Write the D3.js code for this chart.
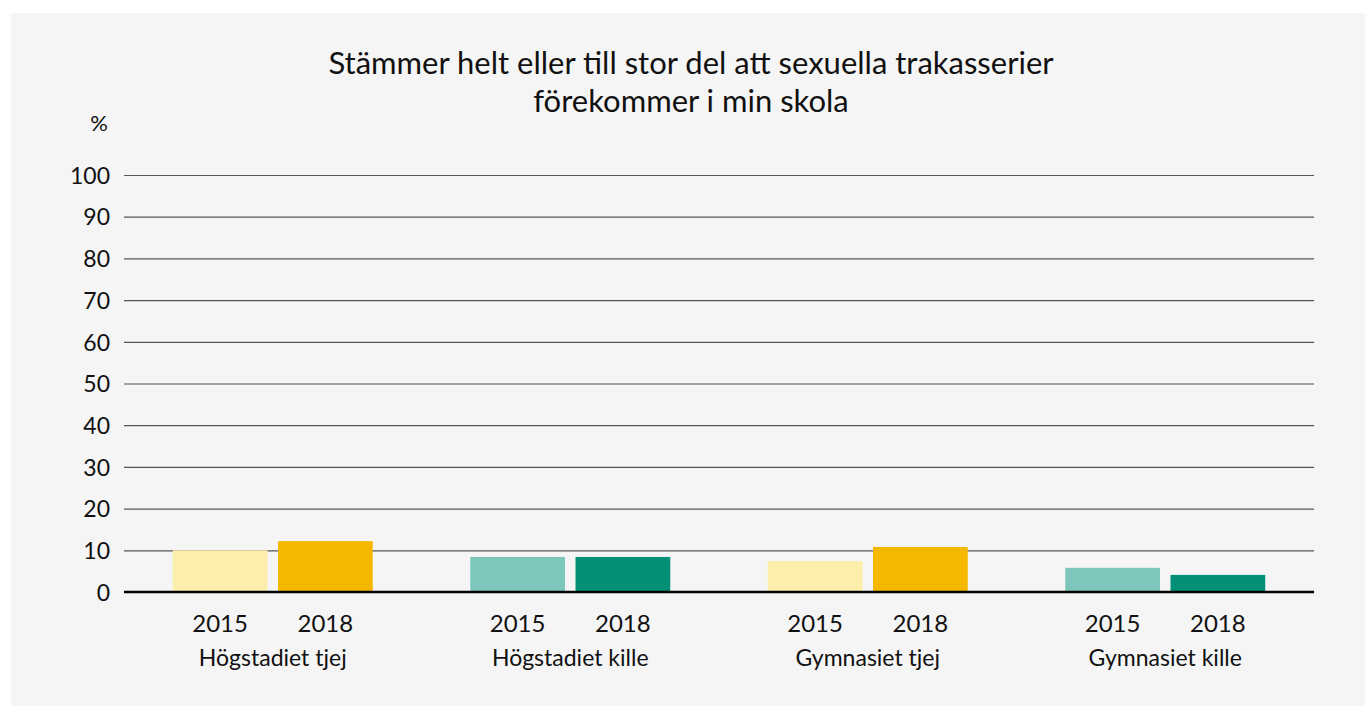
<!DOCTYPE html>
<html>
<head>
<meta charset="utf-8">
<script src="https://cdn.jsdelivr.net/npm/d3@7"></script>
<style>
  html, body { margin: 0; padding: 0; background: #ffffff; }
  svg { display: block; }
  text { font-family: Lato, "Open Sans", sans-serif; fill: #111; }
</style>
</head>
<body>
<svg id="chart" width="1365" height="706"></svg>
<script>
// Share (%) who fully or largely agree, by group and survey year
const categories = ["Högstadiet tjej", "Högstadiet kille", "Gymnasiet tjej", "Gymnasiet kille"];
const years = ["2015", "2018"];
const values2015 = [10.0, 8.4, 7.4, 5.8];
const values2018 = [12.2, 8.4, 10.8, 4.1];
const yTicks = [0, 10, 20, 30, 40, 50, 60, 70, 80, 90, 100];
const titleLines = ["Stämmer helt eller till stor del att sexuella trakasserier", "förekommer i min skola"];

// girls in yellow tones, boys in green tones
const palette = {
  "Högstadiet tjej": ["#fdeeab", "#f4b800"],
  "Högstadiet kille": ["#7dc6bb", "#029077"],
  "Gymnasiet tjej": ["#fdeeab", "#f4b800"],
  "Gymnasiet kille": ["#7dc6bb", "#029077"]
};

const svg = d3.select("#chart");
const W = 1365, H = 706;
const margin = { left: 124, right: 51, top: 175, bottom: 114 };

// panel background
svg.append("rect").attr("x", 11).attr("y", 13).attr("width", W - 11).attr("height", H - 13).attr("fill", "#f5f5f5");

const x0 = d3.scaleBand().domain(categories).range([margin.left, W - margin.right]).paddingInner(0).paddingOuter(0);
const x1 = d3.scaleBand().domain(years).range([0, 200]).paddingInner(0.1);
const y = d3.scaleLinear().domain([0, 100]).range([H - margin.bottom, margin.top]);

// horizontal grid
const yAxis = d3.axisLeft(y).tickValues(yTicks).tickSize(-(W - margin.left - margin.right)).tickPadding(14).tickFormat(d3.format("d"));
const gy = svg.append("g").attr("transform", `translate(${margin.left},0)`).call(yAxis);
gy.select(".domain").remove();
gy.selectAll(".tick line").attr("stroke", "#555").attr("stroke-width", 1.2);
gy.selectAll(".tick text").attr("font-size", 23).attr("fill", "#111").attr("dy", "0.36em");

// bars
const groups = svg.append("g").selectAll("g").data(categories).join("g")
  .attr("transform", d => `translate(${x0(d) + (x0.bandwidth() - 200) / 2},0)`);

groups.selectAll("rect").data((c, i) => years.map((yr, j) => ({ c, yr, v: j === 0 ? values2015[i] : values2018[i], j })))
  .join("rect")
  .attr("x", d => x1(d.yr))
  .attr("width", x1.bandwidth())
  .attr("y", d => y(d.v))
  .attr("height", d => y(0) - y(d.v))
  .attr("fill", d => palette[d.c][d.j]);

// year labels under bars
groups.selectAll("text.year").data(years).join("text")
  .attr("class", "year")
  .attr("x", d => x1(d) + x1.bandwidth() / 2)
  .attr("y", H - margin.bottom + 40)
  .attr("text-anchor", "middle")
  .attr("font-size", 24)
  .text(d => d);

// category labels
groups.append("text")
  .attr("x", 100)
  .attr("y", H - margin.bottom + 74)
  .attr("text-anchor", "middle")
  .attr("font-size", 23)
  .text(d => d);

// zero baseline
svg.append("line")
  .attr("x1", margin.left).attr("x2", W - margin.right)
  .attr("y1", y(0)).attr("y2", y(0))
  .attr("stroke", "#000").attr("stroke-width", 2.4);

// unit label
svg.append("text").attr("x", 99).attr("y", 131).attr("text-anchor", "middle").attr("font-size", 22).text("%");

// title
svg.append("text").attr("x", 691).attr("y", 74).attr("text-anchor", "middle").attr("font-size", 31)
  .selectAll("tspan").data(titleLines).join("tspan")
  .attr("x", 691).attr("dy", (d, i) => i === 0 ? 0 : 38).text(d => d);
</script>
</body>
</html>
